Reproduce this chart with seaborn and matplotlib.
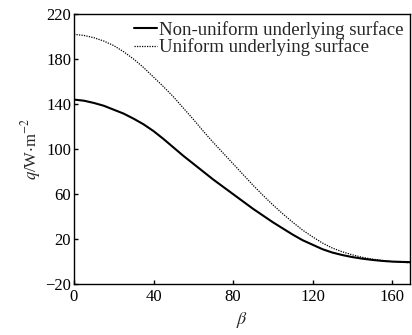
import pandas as pd
import seaborn as sns
import matplotlib
matplotlib.use('Agg')
import matplotlib.pyplot as plt

beta = [0, 5, 10, 15, 20, 25, 30, 35, 40, 45, 50, 55, 60, 65, 70, 75, 80, 85,
        90, 95, 100, 105, 110, 115, 120, 125, 130, 135, 140, 145, 150, 155, 160, 165, 169]
q_nonuniform = [144, 143, 141, 138.5, 135, 131.5, 127, 122, 116, 109, 101.5, 94, 87, 80, 73, 66.5, 60, 53.5,
                47, 41, 35, 29.5, 24, 19, 15, 11, 8, 5.8, 4, 2.6, 1.5, 0.6, 0, -0.3, -0.5]
q_uniform = [202, 201, 199, 196, 192, 186.5, 180, 172.5, 164, 155.5, 146.5, 136.5, 126.5, 116, 106, 96.5, 87, 77.5,
             68, 59, 50.5, 42.5, 35, 28, 22, 16.5, 12, 8.7, 6, 3.8, 2.2, 1, 0, -0.7, -1]

df = pd.concat([
    pd.DataFrame({'beta': beta, 'q': q_nonuniform, 'case': 'Non-uniform underlying surface'}),
    pd.DataFrame({'beta': beta, 'q': q_uniform, 'case': 'Uniform underlying surface'}),
])

sns.set_style('ticks')
plt.rcParams['font.family'] = ['Liberation Serif', 'DejaVu Serif']
plt.rcParams['mathtext.fontset'] = 'stix'

fig = plt.figure(figsize=(4.12, 3.35), dpi=100)
ax = fig.add_axes([0.1796, 0.152, 0.8154, 0.806])

sns.lineplot(data=df[df['case'].str.startswith('Non')], x='beta', y='q', ax=ax,
             color='black', lw=1.5, label='Non-uniform underlying surface')
sns.lineplot(data=df[df['case'].str.startswith('Uni')], x='beta', y='q', ax=ax,
             color='black', lw=0.9, ls=(0, (1, 1)), label='Uniform underlying surface')

ax.set_xlim(0, 169)
ax.set_ylim(-20, 220)
ax.set_xticks([0, 40, 80, 120, 160])
ax.set_yticks([-20, 20, 60, 100, 140, 180, 220])
ax.set_yticklabels(['\u221220', '20', '60', '100', '140', '180', '220'])
ax.tick_params(direction='in', length=3, width=1, labelsize=12, colors='black', pad=2)
ax.tick_params(axis='x', pad=3.5)
for s in ax.spines.values():
    s.set_linewidth(1)
    s.set_color('black')

ax.set_xlabel(r'$\beta$', fontsize=13, labelpad=4)
ax.set_ylabel(r'$q$/W$\cdot$m$^{-2}$', fontsize=12, labelpad=2)

ax.legend(loc='upper right', frameon=False, fontsize=13.5, handlelength=1.25,
          handletextpad=0.08, labelspacing=0.0, borderaxespad=0.15, borderpad=0.2)

plt.savefig('out.png', dpi=100)
